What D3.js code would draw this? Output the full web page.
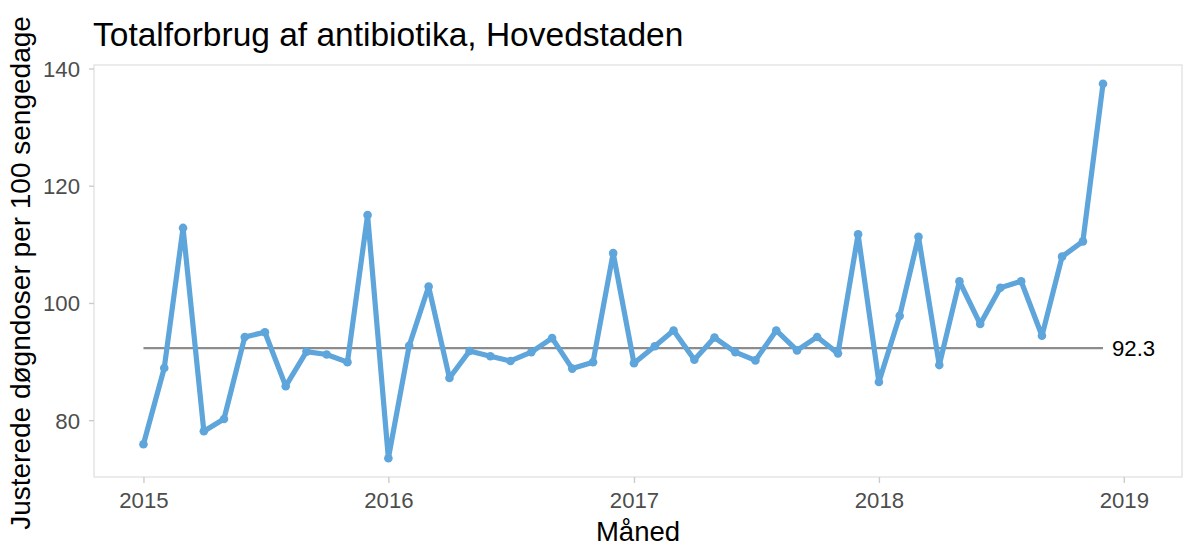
<!DOCTYPE html>
<html>
<head>
<meta charset="utf-8">
<script src="https://cdn.jsdelivr.net/npm/d3@7"></script>
<style>
  body { margin: 0; background: #fff; }
  text { font-family: "Liberation Sans", Arial, Helvetica, sans-serif; }
</style>
</head>
<body>
<div id="chart-area"></div>
<script>
// monthly values, Jan 2015 - Dec 2018
const months = [
  "2015-01", "2015-02", "2015-03", "2015-04", "2015-05", "2015-06",
  "2015-07", "2015-08", "2015-09", "2015-10", "2015-11", "2015-12",
  "2016-01", "2016-02", "2016-03", "2016-04", "2016-05", "2016-06",
  "2016-07", "2016-08", "2016-09", "2016-10", "2016-11", "2016-12",
  "2017-01", "2017-02", "2017-03", "2017-04", "2017-05", "2017-06",
  "2017-07", "2017-08", "2017-09", "2017-10", "2017-11", "2017-12",
  "2018-01", "2018-02", "2018-03", "2018-04", "2018-05", "2018-06",
  "2018-07", "2018-08", "2018-09", "2018-10", "2018-11", "2018-12"
];
const values = [
  75.9, 88.9, 112.8, 78.1, 80.2, 94.2, 95.0, 85.8, 91.7, 91.2, 89.9, 115.0,
  73.5, 92.7, 102.8, 87.2, 91.8, 90.9, 90.1, 91.6, 94.0, 88.8, 89.9, 108.5,
  89.7, 92.6, 95.3, 90.3, 94.1, 91.6, 90.2, 95.3, 91.9, 94.2, 91.4, 111.7,
  86.5, 97.8, 111.3, 89.4, 103.7, 96.4, 102.6, 103.7, 94.4, 107.9, 110.5, 137.4
];
const centerValue = 92.3;
const yTicks = [80, 100, 120, 140];
const xTickYears = ["2015", "2016", "2017", "2018", "2019"];

const title = "Totalforbrug af antibiotika, Hovedstaden";
const xTitle = "Måned";
const yTitle = "Justerede døgndoser per 100 sengedage";

const canvas_dims = { width: 1184, height: 552 };
const margins = { top: 65, right: 2, bottom: 75, left: 94 };
const content_dims = {
  width: canvas_dims.width - margins.left - margins.right,
  height: canvas_dims.height - margins.top - margins.bottom
};

const parseMonth = d3.timeParse("%Y-%m");
const parseYear = d3.timeParse("%Y");
const data = months.map((m, i) => ({ date: parseMonth(m), value: values[i] }));

const svg = d3
  .select("#chart-area")
  .append("svg")
  .attr("width", canvas_dims.width)
  .attr("height", canvas_dims.height);

const group = svg
  .append("g")
  .attr("transform", `translate(${margins.left},${margins.top})`);

// x range reaches a bit past the last month (room for the centre label), plus 5% each side
const xMin = data[0].date;
const xMax = d3.timeDay.offset(data[data.length - 1].date, 44);
const xPad = (xMax - xMin) * 0.05;
const yExt = d3.extent(values);
const yPad = (yExt[1] - yExt[0]) * 0.05;

const scales = {
  x: d3
    .scaleTime()
    .domain([new Date(+xMin - xPad), new Date(+xMax + xPad)])
    .range([0, content_dims.width]),
  y: d3
    .scaleLinear()
    .domain([yExt[0] - yPad, yExt[1] + yPad])
    .range([content_dims.height, 0])
};

// panel border
group
  .append("rect")
  .attr("width", content_dims.width)
  .attr("height", content_dims.height)
  .attr("fill", "none")
  .attr("stroke", "#e3e3e3")
  .attr("stroke-width", 1.4);

// axes
const yAxis = d3.axisLeft(scales.y).tickValues(yTicks).tickSize(5).tickPadding(9);
const yG = group.append("g").attr("class", "left axis").call(yAxis);

const xAxis = d3
  .axisBottom(scales.x)
  .tickValues(xTickYears.map(parseYear))
  .tickFormat(d3.timeFormat("%Y"))
  .tickSize(6)
  .tickPadding(9);
const xG = group
  .append("g")
  .attr("class", "bottom axis")
  .attr("transform", `translate(0,${content_dims.height})`)
  .call(xAxis);

[xG, yG].forEach(g => {
  g.select(".domain").remove();
  g.selectAll(".tick line").attr("stroke", "#cccccc").attr("stroke-width", 1.4);
  g.selectAll(".tick text")
    .attr("fill", "#4d4d4d")
    .attr("font-size", "22.2px")
    .style("font-family", '"Liberation Sans", Arial, sans-serif');
});
yG.selectAll(".tick text").attr("dy", "0.36em");

// centre line + label
const last = data[data.length - 1].date;
group
  .append("line")
  .attr("x1", scales.x(data[0].date))
  .attr("x2", scales.x(last))
  .attr("y1", scales.y(centerValue))
  .attr("y2", scales.y(centerValue))
  .attr("stroke", "#8c8c8c")
  .attr("stroke-width", 2.2);

group
  .append("text")
  .attr("x", scales.x(last) + 9)
  .attr("y", scales.y(centerValue))
  .attr("dy", "0.36em")
  .attr("font-size", "22.2px")
  .attr("fill", "#000")
  .text(d3.format(".1f")(centerValue));

// series
const line = d3
  .line()
  .x(d => scales.x(d.date))
  .y(d => scales.y(d.value));

group
  .append("path")
  .datum(data)
  .attr("d", line)
  .attr("fill", "none")
  .attr("stroke", "#5da5da")
  .attr("stroke-width", 5.2)
  .attr("stroke-linejoin", "round")
  .attr("stroke-linecap", "round");

group
  .selectAll("circle.pt")
  .data(data)
  .enter()
  .append("circle")
  .attr("class", "pt")
  .attr("cx", d => scales.x(d.date))
  .attr("cy", d => scales.y(d.value))
  .attr("r", 4.3)
  .attr("fill", "#5da5da");

// titles
svg
  .append("text")
  .attr("x", 93)
  .attr("y", 46)
  .attr("font-size", "33.5px")
  .attr("fill", "#000")
  .text(title);

svg
  .append("text")
  .attr("x", margins.left + content_dims.width / 2)
  .attr("y", 541)
  .attr("font-size", "27.5px")
  .attr("text-anchor", "middle")
  .attr("fill", "#000")
  .text(xTitle);

svg
  .append("text")
  .attr("transform", `translate(30,${margins.top + content_dims.height / 2 + 2}) rotate(-90)`)
  .attr("font-size", "28px")
  .attr("text-anchor", "middle")
  .attr("fill", "#000")
  .text(yTitle);
</script>
</body>
</html>
